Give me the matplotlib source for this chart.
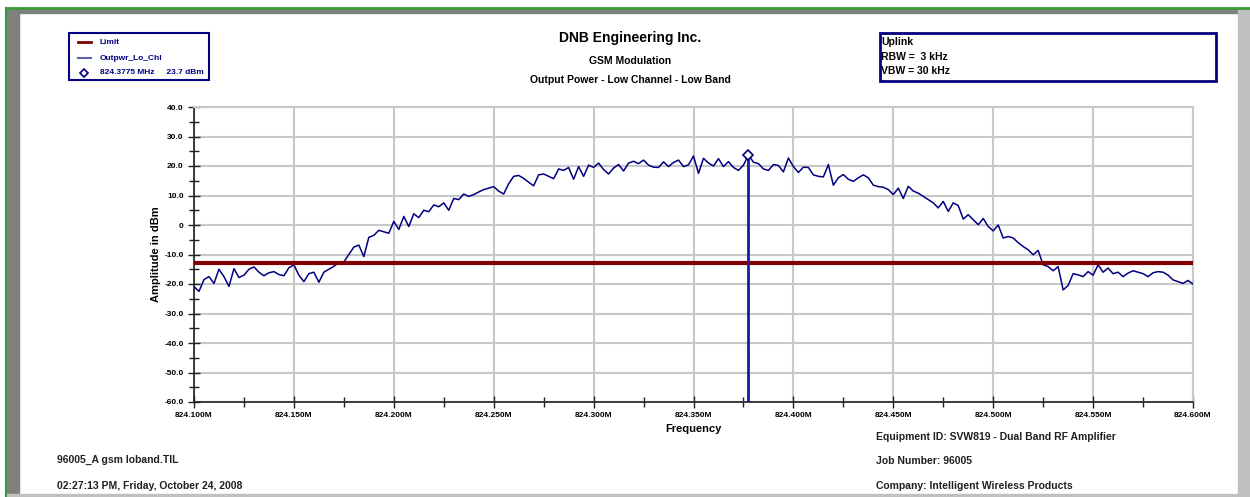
import numpy as np
import matplotlib
matplotlib.use("Agg")
import matplotlib.pyplot as plt
from matplotlib.ticker import MultipleLocator, FuncFormatter
from matplotlib.lines import Line2D
from matplotlib.patches import Rectangle

plt.rcParams['font.family'] = ['Liberation Sans', 'DejaVu Sans']
plt.rcParams['font.weight'] = 'bold'

# sweep: 824.100 - 824.600 MHz, 2.5 kHz steps
f_start = 824.100
f_step = 0.0025
trace_dbm = [
    -20.9, -22.5, -18.5, -17.5, -19.8, -15.0, -17.5, -20.8, -14.8, -17.8,
    -17.0, -15.0, -14.2, -16.0, -17.2, -16.2, -15.8, -16.8, -17.2, -14.5,
    -13.5, -17.0, -19.2, -16.5, -16.0, -19.4, -16.0, -15.0, -14.0, -12.8,
    -12.5, -10.0, -7.5, -6.8, -10.7, -4.2, -3.5, -1.8, -2.3, -2.8,
    1.2, -1.5, 2.9, -0.5, 3.8, 2.5, 5.0, 4.5, 6.8, 6.2,
    7.5, 5.0, 9.0, 8.6, 10.5, 9.7, 10.3, 11.2, 12.0, 12.5,
    13.0, 11.5, 10.5, 14.0, 16.5, 16.8, 15.8, 14.5, 13.3, 17.0,
    17.3, 16.5, 15.7, 19.0, 18.5, 19.5, 15.5, 19.8, 16.5, 20.3,
    19.5, 21.0, 18.8, 17.3, 19.3, 20.5, 18.3, 21.0, 21.6, 20.8,
    22.0, 20.3, 19.6, 19.5, 21.4, 19.8, 21.2, 22.0, 19.8, 20.4,
    23.4, 17.5, 22.6, 21.0, 20.0, 22.5, 19.8, 21.5, 19.5, 18.5,
    20.3, 23.7, 21.3, 20.8, 19.0, 18.5, 20.5, 20.2, 18.0, 22.7,
    19.8, 17.8, 19.6, 19.5, 17.0, 16.5, 16.3, 20.5, 13.5, 16.0,
    17.1, 15.5, 14.8, 16.0, 17.0, 16.0, 13.5, 13.0, 12.8, 12.0,
    10.3, 12.5, 9.0, 13.1, 11.5, 10.8, 9.7, 8.6, 7.5, 5.8,
    8.0, 4.6, 7.5, 6.6, 2.0, 3.5, 1.8, 0.1, 2.2, -0.5,
    -2.0, 0.0, -4.4, -3.9, -4.4, -6.0, -7.3, -8.4, -10.1, -8.6,
    -13.5, -14.1, -15.5, -14.1, -22.0, -20.5, -16.5, -16.9, -17.5, -15.8,
    -17.0, -13.5, -16.0, -14.6, -16.5, -16.0, -17.5, -16.3, -15.5, -16.0,
    -16.5, -17.5, -16.2, -15.8, -16.0, -17.0, -18.6, -19.2, -19.8, -18.8,
    -20.0,
]
freq_mhz = f_start + f_step * np.arange(len(trace_dbm))

limit_dbm = -13.0
marker_mhz = 824.3775
marker_dbm = 23.7

navy = '#000080'
fig = plt.figure(figsize=(12.5, 4.97), dpi=100)

# page frame
W, H = 1250, 497
def px(x, y):
    return x / W, 1 - y / H
fig.patches.append(Rectangle(px(7, 497), 12 / W, 488 / H, transform=fig.transFigure,
                             color='#808080', zorder=0))
fig.patches.append(Rectangle(px(7, 13), 1243 / W, 4 / H, transform=fig.transFigure,
                             color='#808080', zorder=0))
fig.patches.append(Rectangle(px(1238, 497), 12 / W, 488 / H, transform=fig.transFigure,
                             color='#c0c0c0', zorder=0))
fig.patches.append(Rectangle(px(7, 497), 1243 / W, 3 / H, transform=fig.transFigure,
                             color='#c0c0c0', zorder=0))
fig.lines.append(Line2D([7 / W, 1], [1 - 8 / H, 1 - 8 / H], transform=fig.transFigure,
                        color='#3a9a3a', lw=2))
fig.lines.append(Line2D([6 / W, 6 / W], [0, 1 - 8 / H], transform=fig.transFigure,
                        color='#3a9a3a', lw=1.5))

ax = fig.add_axes([194 / W, 1 - 402 / H, 999 / W, 295 / H])
ax.plot(freq_mhz, trace_dbm, color=navy, lw=1.1, zorder=3)
ax.axhline(limit_dbm, color='#800000', lw=3, zorder=4)
ax.plot([marker_mhz, marker_mhz], [-60, marker_dbm], color='#1a1aa8', lw=2, zorder=5)
ax.plot(marker_mhz, marker_dbm, marker='D', ms=5, mfc='white', mec=navy, mew=1.2, zorder=6)

ax.set_xlim(824.100, 824.600)
ax.set_ylim(-60, 40)
ax.xaxis.set_major_locator(MultipleLocator(0.05))
ax.xaxis.set_minor_locator(MultipleLocator(0.025))
ax.yaxis.set_major_locator(MultipleLocator(10))
ax.yaxis.set_minor_locator(MultipleLocator(5))
ax.xaxis.set_major_formatter(FuncFormatter(lambda v, p: f"{v:.3f}M"))
ax.yaxis.set_major_formatter(FuncFormatter(lambda v, p: "0" if abs(v) < 1e-9 else f"{v:.1f}"))
ax.tick_params(which='both', direction='inout', color='#202020', labelsize=6)
ax.tick_params(which='major', length=8, width=1)
ax.tick_params(which='minor', length=7, width=1)
ax.grid(True, which='major', color='#c8c8c8', lw=1.5, zorder=0)
for s in ['top', 'right']:
    ax.spines[s].set_color('#c8c8c8')
    ax.spines[s].set_linewidth(1.5)
for s in ['left', 'bottom']:
    ax.spines[s].set_color('#202020')
    ax.spines[s].set_linewidth(1.2)
ax.set_xlabel('Frequency', fontsize=8, fontweight='bold', labelpad=3)
ax.set_ylabel('Amplitude in dBm', fontsize=8, fontweight='bold', labelpad=2)

# titles
fig.text(630 / W, 1 - 38 / H, 'DNB Engineering Inc.', ha='center', va='center', fontsize=10, fontweight='bold')
fig.text(630 / W, 1 - 61 / H, 'GSM Modulation', ha='center', va='center', fontsize=7.5, fontweight='bold')
fig.text(630 / W, 1 - 80 / H, 'Output Power - Low Channel - Low Band', ha='center', va='center',
         fontsize=7.5, fontweight='bold')

# legend box
fig.patches.append(Rectangle(px(69, 80), 140 / W, 47 / H, transform=fig.transFigure,
                             fill=False, ec=navy, lw=1.5))
fig.lines.append(Line2D([78 / W, 91 / W], [1 - 42 / H] * 2, transform=fig.transFigure, color='#800000', lw=2))
fig.lines.append(Line2D([78 / W, 91 / W], [1 - 58 / H] * 2, transform=fig.transFigure, color='#6060b0', lw=1.5))
fig.lines.append(Line2D([84.5 / W], [1 - 73 / H], transform=fig.transFigure, marker='D', ms=4,
                        mfc='white', mec=navy, mew=1.2, ls='none'))
fig.text(100 / W, 1 - 42 / H, 'Limit', va='center', fontsize=6, fontweight='bold', color=navy)
fig.text(100 / W, 1 - 58 / H, 'Outpwr_Lo_Chl', va='center', fontsize=6, fontweight='bold', color=navy)
fig.text(100 / W, 1 - 73 / H, '824.3775 MHz     23.7 dBm', va='center', fontsize=6, fontweight='bold', color=navy)

# settings box
fig.patches.append(Rectangle(px(880, 81), 336 / W, 48 / H, transform=fig.transFigure,
                             fill=False, ec=navy, lw=2))
fig.text(881 / W, 1 - 42 / H, 'Uplink', va='center', fontsize=7.5, fontweight='bold')
fig.text(881 / W, 1 - 57 / H, 'RBW =  3 kHz', va='center', fontsize=7.5, fontweight='bold')
fig.text(881 / W, 1 - 71 / H, 'VBW = 30 kHz', va='center', fontsize=7.5, fontweight='bold')

# footer
fig.text(57 / W, 1 - 460 / H, '96005_A gsm loband.TIL', va='center', fontsize=7.5, fontweight='bold', color='#202020')
fig.text(57 / W, 1 - 486 / H, '02:27:13 PM, Friday, October 24, 2008', va='center', fontsize=7.5,
         fontweight='bold', color='#202020')
fig.text(876 / W, 1 - 437 / H, 'Equipment ID: SVW819 - Dual Band RF Amplifier', va='center', fontsize=7.5,
         fontweight='bold', color='#202020')
fig.text(876 / W, 1 - 461 / H, 'Job Number: 96005', va='center', fontsize=7.5, fontweight='bold', color='#202020')
fig.text(876 / W, 1 - 486 / H, 'Company: Intelligent Wireless Products', va='center', fontsize=7.5,
         fontweight='bold', color='#202020')

fig.savefig('out.png', dpi=100)
